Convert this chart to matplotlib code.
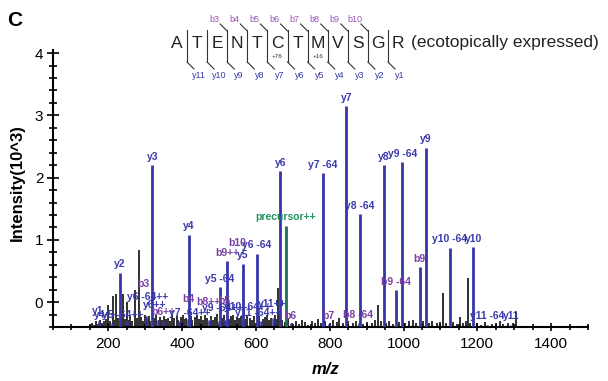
import matplotlib
matplotlib.use("Agg")
import matplotlib.pyplot as plt
from matplotlib.ticker import MultipleLocator

plt.rcParams['font.family'] = ['Liberation Sans', 'DejaVu Sans']

# 标注的碎片离子峰 (m/z, 强度 10^3)
ion_labels = ['y2', 'y3', 'y4', 'y5 -64', 'b9++', 'y5', 'y6 -64', 'y6', 'y7 -64', 'y7',
              'y8 -64', 'y8', 'b9 -64', 'y9 -64', 'b9', 'y9', 'y10 -64', 'y10']
ion_mz = [232.1, 319.2, 418.2, 501.3, 522.2, 565.3, 602.3, 666.3, 781.3, 845.3,
          882.4, 946.4, 979.4, 996.4, 1043.4, 1060.4, 1125.5, 1189.5]
ion_int = [0.47, 2.20, 1.08, 0.24, 0.66, 0.62, 0.78, 2.10, 2.07, 3.15,
           1.41, 2.20, 0.19, 2.25, 0.56, 2.48, 0.87, 0.88]

# 母离子
prec_mz = [681.3]
prec_int = [1.23]

# 低强度的标注峰
low_labels = ['y1', 'y4++', 'y5 -64++', 'b3', 'y6 -64++', 'y6++', 'b6++', 'b4', 'y7 -64++',
              'b8++', 'b5', 'y9 -64++', 'y10 -64++', 'y11 -64++', 'y11++', 'b6', 'b7',
              'b8 -64', 'y11 -64', 'y11']
low_mz = [175.1, 209.6, 251.1, 302.1, 301.7, 333.7, 348.6, 416.2, 391.2,
          472.7, 517.2, 498.7, 563.2, 613.8, 645.8, 696.2, 797.3,
          880.3, 1226.5, 1290.5]
low_int = [-0.30, -0.33, -0.31, -0.22, -0.26, -0.28, -0.30, -0.27, -0.31,
           -0.29, -0.28, -0.31, -0.28, -0.31, -0.26, -0.34, -0.35,
           -0.34, -0.37, -0.37]
# 标签位置 (m/z, 强度)
low_text_mz = [171, 192, 240, 294, 306, 326, 349, 416, 420,
               471, 514, 509, 578, 607, 645, 694, 797,
               876, 1228, 1292]
low_text_int = [-0.15, -0.21, -0.21, 0.29, 0.08, -0.05, -0.16, 0.05, -0.18,
                0.0, 0.02, -0.10, -0.08, -0.18, -0.03, -0.23, -0.23,
                -0.21, -0.23, -0.23]

# 未标注的峰 (噪声)
noise_mz = [150, 156, 161, 166, 172, 178, 183, 188, 194, 200, 205, 212, 216, 220, 226,
            231, 236, 240, 245, 250, 255, 260, 265, 272, 277, 284, 289, 294, 298, 305,
            310, 314, 323, 328, 336, 341, 346, 352, 357, 362, 368, 373, 379, 385, 390,
            396, 401, 406, 411, 423, 428, 434, 440, 446, 451, 457, 462, 468, 478, 484,
            489, 494, 508, 513, 527, 532, 538, 543, 549, 555, 560, 571, 577, 583, 589,
            595, 608, 618, 624, 630, 636, 641, 651, 656, 660, 663, 672, 678, 688, 698,
            708, 716, 724, 733, 742, 752, 760, 768, 776, 788, 800, 810, 820, 825, 835,
            850, 862, 872, 890, 902, 915, 922, 930, 940, 952, 962, 972, 988, 1005, 1015,
            1025, 1035, 1052, 1068, 1078, 1090, 1100, 1108, 1115, 1135, 1145, 1154, 1162,
            1170, 1175, 1180, 1198, 1210, 1220, 1240, 1250, 1262, 1270, 1282, 1298, 1306]
noise_int = [-0.36, -0.33, -0.37, -0.31, -0.35, -0.29, -0.34, -0.30, -0.27, -0.05, -0.31, 0.10, -0.28, 0.13, -0.25,
             -0.30, -0.24, 0.13, -0.27, 0.00, -0.29, -0.22, -0.30, 0.19, -0.26, 0.83, -0.24, -0.31, -0.20, -0.27,
             -0.23, -0.30, -0.25, -0.21, -0.28, -0.24, -0.29, -0.22, -0.27, -0.25, -0.30, -0.21, -0.26, -0.23, -0.29,
             -0.24, -0.20, -0.27, -0.25, -0.22, -0.28, -0.24, -0.21, -0.27, -0.23, -0.29, -0.20, -0.26, -0.22, -0.28,
             -0.24, -0.19, -0.25, -0.21, -0.27, -0.23, -0.20, -0.28, -0.24, -0.26, -0.22, -0.27, -0.21, -0.25, -0.29,
             -0.23, -0.22, -0.27, -0.24, -0.20, -0.28, -0.25, -0.21, -0.27, 0.22, -0.15, -0.29, -0.32, -0.27, -0.33,
             -0.30, -0.35, -0.28, -0.32, -0.36, -0.30, -0.33, -0.27, -0.34, -0.31, -0.35, -0.29, -0.32, -0.26, -0.33,
             -0.30, -0.34, -0.31, -0.35, -0.32, -0.34, -0.28, -0.05, -0.31, -0.33, -0.30, -0.35, -0.32, -0.34, -0.31,
             -0.29, -0.33, -0.31, -0.34, -0.30, -0.33, -0.32, 0.15, -0.34, -0.32, -0.35, -0.24, -0.33,
             -0.31, 0.38, -0.34, -0.33, -0.36, -0.32, -0.35, -0.33, -0.31, -0.35, -0.34, -0.33, -0.16]

# 肽段序列
sequence = list("ATENTCTMVSGR")
b_names = ['b3', 'b4', 'b5', 'b6', 'b7', 'b8', 'b9', 'b10']
y_names = ['y11', 'y10', 'y9', 'y8', 'y7', 'y6', 'y5', 'y4', 'y3', 'y2', 'y1']
mods = {5: '+76', 7: '+16'}

blue = '#3636a6'
label_blue = '#3a3aaa'
purple = '#7a3fa3'
light_purple = '#9a55b5'
green_line = '#1d6f52'
green_text = '#23905e'

fig = plt.figure(figsize=(6.08, 3.81), dpi=100)
ax = fig.add_axes([53 / 608, 54 / 381, 535 / 608, 277 / 381])
ax.set_xlim(50, 1500)
ax.set_ylim(-0.4, 4.05)

ax.vlines(noise_mz, -0.4, noise_int, color='#303030', lw=1.4, zorder=1)
ax.vlines(low_mz, -0.4, low_int, color=blue, lw=1.8, zorder=2)
ax.vlines(ion_mz, -0.4, ion_int, color=blue, lw=2.0, zorder=3)
ax.vlines(prec_mz, -0.4, prec_int, color=green_line, lw=2.0, zorder=3)

for lab, mz, h in zip(ion_labels, ion_mz, ion_int):
    c = purple if lab.startswith('b') else label_blue
    ax.annotate(lab, (mz, h), xytext=(0, 2.5), textcoords='offset points',
                ha='center', va='bottom', fontsize=7.5, fontweight='bold', color=c)
ax.annotate('precursor++', (prec_mz[0], prec_int[0]), xytext=(0, 2.5), textcoords='offset points',
            ha='center', va='bottom', fontsize=7.5, fontweight='bold', color=green_text)
ax.text(548, 0.95, 'b10', ha='center', va='center', fontsize=7.5, fontweight='bold', color=purple)

for lab, tx, ty in zip(low_labels, low_text_mz, low_text_int):
    c = purple if lab.startswith('b') else label_blue
    ax.text(tx, ty, lab, ha='center', va='center', fontsize=7.5, fontweight='bold', color=c, zorder=4)

for s in ['top', 'right']:
    ax.spines[s].set_visible(False)
for s in ['left', 'bottom']:
    ax.spines[s].set_linewidth(1.5)

ax.xaxis.set_major_locator(MultipleLocator(200))
ax.xaxis.set_minor_locator(MultipleLocator(50))
ax.yaxis.set_major_locator(MultipleLocator(1))
ax.yaxis.set_minor_locator(MultipleLocator(0.2))
ax.tick_params(axis='both', which='both', direction='inout', width=1.2)
ax.tick_params(axis='x', which='major', length=6, labelsize=11, pad=4)
ax.tick_params(axis='x', which='minor', length=5)
ax.tick_params(axis='y', which='major', length=8, labelsize=11, pad=3)
ax.tick_params(axis='y', which='minor', length=6)
ax.set_xticks([200, 400, 600, 800, 1000, 1200, 1400])

ax.set_xlabel('m/z', fontsize=12, fontweight='bold', style='italic')
ax.xaxis.set_label_coords(0.51, -0.125)
ax.set_ylabel('Intensity(10^3)', fontsize=12, fontweight='bold')
ax.yaxis.set_label_coords(-0.052, 0.52)

fig.text(15 / 608, 1 - 20 / 381, 'C', fontsize=15, fontweight='bold', va='center', ha='center')

# 序列碎裂示意 (像素坐标)
ov = fig.add_axes([0, 0, 1, 1], facecolor='none')
ov.set_xlim(0, 608)
ov.set_ylim(381, 0)
ov.axis('off')
x0, step, ly = 177, 20.1, 43
for i, aa in enumerate(sequence):
    ov.text(x0 + step * i, ly, aa, ha='center', va='center', fontsize=12.5, color='#222222')
    if i in mods:
        ov.text(x0 + step * i, 57, mods[i], ha='center', va='center', fontsize=4.5, color='#333333')
ov.text(411, ly, '(ecotopically expressed)', ha='left', va='center', fontsize=12.5, color='#222222')
for k in range(len(sequence) - 1):
    bx = x0 + step * k + 10
    ov.plot([bx, bx], [30, 62], color='#333333', lw=0.8)
    ov.plot([bx, bx + 7], [62, 69], color='#333333', lw=0.8)
    ov.text(bx + 12, 75, y_names[k], ha='center', va='center', fontsize=6.5, color=label_blue)
    if k >= 2 and k - 2 < len(b_names):
        ov.plot([bx - 7, bx], [24, 31], color='#333333', lw=0.8)
        ov.text(bx - 13, 19, b_names[k - 2], ha='center', va='center', fontsize=6.5, color=light_purple)

fig.savefig('out.png', dpi=100)
